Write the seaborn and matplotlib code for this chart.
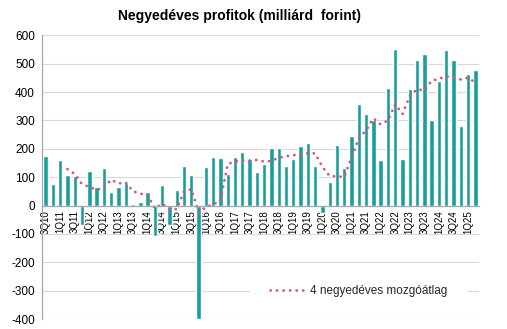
import numpy as np
import pandas as pd
import matplotlib
matplotlib.use("Agg")
import matplotlib.pyplot as plt
import seaborn as sns

# ---- data ----
quarters = []
for y in range(10, 26):
    for q in range(1, 5):
        quarters.append(f"{q}Q{y:02d}")
quarters = quarters[2:62]  # 3Q10 .. 2Q25

profit = [174, 75, 159, 106, 105, -69, 120, 65, 133, 46,
          66, 81, 7, 13, 46, -108, 73, -69, 54, 139,
          107, -400, 135, 172, 166, 111, 171, 189, 164, 118,
          148, 201, 204, 141, 164, 211, 222, 138, -27, 84,
          215, 132, 245, 358, 324, 301, 161, 414, 552, 164,
          412, 512, 534, 301, 439, 547, 512, 279, 464, 478]

moving_avg = [np.nan, np.nan, np.nan, 128.5, 111.3, 75.3, 65.5, 55.3, 62.3, 91.0,
              77.5, 81.5, 50.0, 41.8, 36.8, -10.5, 6.0, -14.5, -12.5, 49.3,
              57.8, -25.0, -4.8, 3.5, 18.3, 146.0, 155.0, 159.3, 158.8, 160.5,
              154.8, 157.8, 167.8, 173.5, 177.5, 180.0, 184.5, 183.8, 136.0, 104.3,
              102.5, 101.0, 169.0, 237.5, 264.8, 307.0, 286.0, 300.0, 357.0, 322.8,
              385.5, 410.0, 405.5, 439.8, 446.5, 455.3, 449.8, 444.3, 450.5, 433.3]

title = "Negyedéves profitok (milliárd  forint)"
legend_label = "4 negyedéves mozgóátlag"
y_ticks = list(range(-400, 601, 100))

df = pd.DataFrame({"quarter": quarters, "profit": profit,
                   "ma": moving_avg, "pos": np.arange(len(quarters))})

# ---- style ----
sns.set_theme(style="white")
plt.rcParams["font.family"] = ["Liberation Sans", "DejaVu Sans"]

fig = plt.figure(figsize=(5.07, 3.29), dpi=100)
ax = fig.add_axes([42 / 507, 1 - 319 / 329, 437 / 507, (319 - 35.3) / 329])

bar_color = "#1a9e9b"
line_color = "#d6537f"

sns.barplot(data=df, x="quarter", y="profit", color=bar_color, width=0.6,
            saturation=1, ax=ax, zorder=2)
sns.lineplot(data=df, x="pos", y="ma", color=line_color, lw=2.0,
             label=legend_label, ax=ax, zorder=3)
for ln in ax.lines:
    ln.set_linestyle((0, (0.05, 2.3)))
    ln.set_dash_capstyle("round")

ax.set_xlim(-0.5, len(quarters) - 0.5)
ax.set_ylim(-400, 600)
ax.set_yticks(y_ticks)
ax.set_yticklabels([str(v) for v in y_ticks])

ax.set_xticks(np.arange(0, len(quarters), 2))
ax.set_xticklabels(quarters[::2])
ax.set_xticks(np.arange(-0.5, len(quarters), 1), minor=True)
ax.tick_params(axis="x", which="major", length=0, pad=3.5,
               labelrotation=90, labelsize=7, labelcolor="black")
ax.tick_params(axis="x", which="minor", length=3, color="#a6a6a6", width=0.8,
               direction="out")
ax.tick_params(axis="y", length=3, color="#a6a6a6", width=0.8, pad=2,
               direction="out", labelsize=8.5, labelcolor="black")
ax.set_xlabel("")
ax.set_ylabel("")

ax.yaxis.grid(True, color="#d9d9d9", lw=0.8)
ax.set_axisbelow(True)

for s in ["top", "right"]:
    ax.spines[s].set_visible(False)
ax.spines["left"].set_color("#a6a6a6")
ax.spines["left"].set_linewidth(0.9)
ax.spines["bottom"].set_position(("data", 0))
ax.spines["bottom"].set_color("#a6a6a6")
ax.spines["bottom"].set_linewidth(0.9)
ax.spines["bottom"].set_zorder(4)

leg = ax.legend(loc="center", bbox_to_anchor=((359 - 42) / 437, (319 - 290.7) / 283.7),
                fontsize=8.5, frameon=True, facecolor="white", edgecolor="none",
                framealpha=1, borderpad=1.7, handlelength=2.8, handletextpad=0.6,
                fancybox=False)
for h in leg.get_lines():
    h.set_linestyle((0, (0.05, 2.3)))
    h.set_dash_capstyle("round")

fig.text(240 / 507, 1 - 16 / 329, title, ha="center", va="center",
         fontsize=10, fontweight="bold", color="black")

fig.savefig("out.png", dpi=100)
